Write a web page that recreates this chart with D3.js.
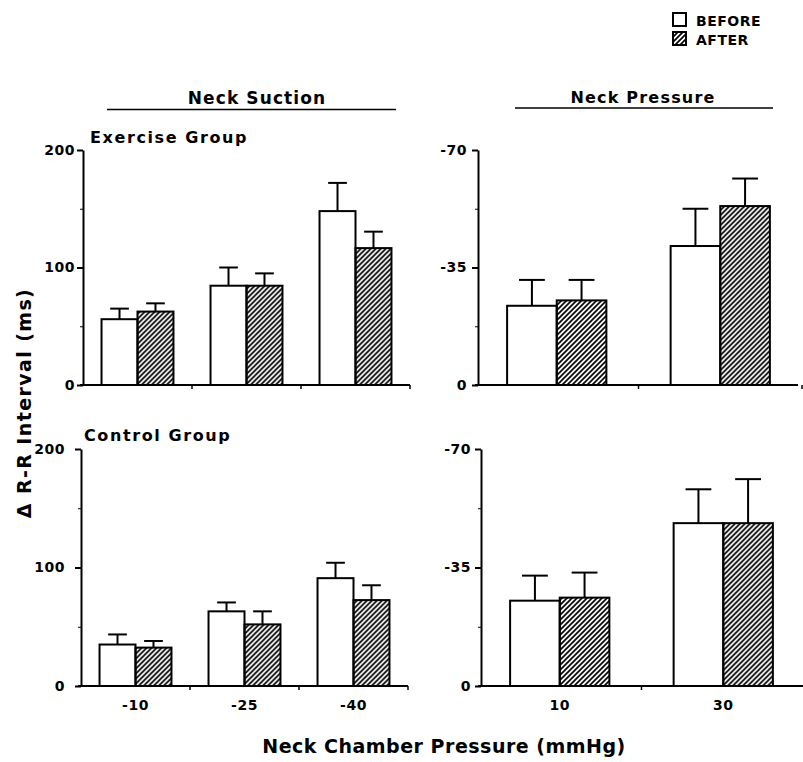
<!DOCTYPE html>
<html>
<head>
<meta charset="utf-8">
<script src="https://cdn.jsdelivr.net/npm/d3@7"></script>
<style>
  body { margin: 0; background: #fff; }
  text { font-family: "DejaVu Sans", sans-serif; font-weight: bold; fill: #000; }
</style>
</head>
<body>
<script>
// categories
var suctionCats = ["-10", "-25", "-40"];
var pressureCats = ["10", "30"];
var seriesNames = ["BEFORE", "AFTER"];

// exercise group
var exSuctionBefore = [56, 84.5, 148];
var exSuctionBeforeSE = [9, 15.5, 24];
var exSuctionAfter = [62.5, 84.5, 116.5];
var exSuctionAfterSE = [7, 10.5, 14];
var exPressureBefore = [-23.6, -41.4];
var exPressureBeforeSE = [7.7, 11.1];
var exPressureAfter = [-25.2, -53.3];
var exPressureAfterSE = [6.1, 8.2];

// control group
var ctSuctionBefore = [35, 63, 91];
var ctSuctionBeforeSE = [8.5, 7.5, 13];
var ctSuctionAfter = [32.4, 52, 72.5];
var ctSuctionAfterSE = [5.6, 11, 12.5];
var ctPressureBefore = [-25.2, -48.1];
var ctPressureBeforeSE = [7.4, 10];
var ctPressureAfter = [-26.1, -48.1];
var ctPressureAfterSE = [7.4, 13];

// y ticks
var suctionTicks = [0, 100, 200];
var suctionMinor = [50, 150];
var pressureTicks = [0, -35, -70];
var pressureMinor = [-17.5, -52.5];

var svg = d3.select("body")
    .append("svg")
    .attr("width", 803)
    .attr("height", 762);

// hatch pattern for AFTER bars
var defs = svg.append("defs");
var pat = defs.append("pattern")
    .attr("id", "hatch")
    .attr("patternUnits", "userSpaceOnUse")
    .attr("width", 5)
    .attr("height", 5);
pat.append("path")
    .attr("d", "M-1,1 l2,-2 M0,5 l5,-5 M4,6 l2,-2")
    .attr("stroke", "#000")
    .attr("stroke-width", 1.7);

function fillFor(i) {
    return i === 0 ? "#fff" : "url(#hatch)";
}

function panel(opt) {
    var g = svg.append("g");

    var y = d3.scaleLinear()
        .domain(opt.domain)
        .range([opt.bottom, opt.top]);

    var x = d3.scaleBand()
        .domain(opt.cats)
        .range([opt.x, opt.x + opt.width])
        .paddingInner(opt.pi)
        .paddingOuter(opt.po);

    var xs = d3.scaleBand()
        .domain(seriesNames)
        .range([0, x.bandwidth()]);

    var rows = opt.cats.map(function (c, i) {
        return {
            cat: c,
            vals: [
                {s: 0, v: opt.before[i], e: opt.beforeSE[i]},
                {s: 1, v: opt.after[i], e: opt.afterSE[i]}
            ]
        };
    });

    var groups = g.selectAll("g.grp")
        .data(rows)
        .enter()
        .append("g")
        .attr("class", "grp")
        .attr("transform", function (d) { return "translate(" + x(d.cat) + ",0)"; });

    var sign = opt.domain[1] < 0 ? -1 : 1;

    // error bars (drawn first so the bar outline covers the stem foot)
    groups.selectAll("g.err")
        .data(function (d) { return d.vals; })
        .enter()
        .append("g")
        .attr("class", "err")
        .each(function (d) {
            var cx = xs(seriesNames[d.s]) + xs.bandwidth() / 2;
            var cap = xs.bandwidth() * 0.26;
            var top = y(d.v + sign * d.e);
            d3.select(this).append("line")
                .attr("x1", cx).attr("x2", cx)
                .attr("y1", y(d.v)).attr("y2", top)
                .attr("stroke", "#000").attr("stroke-width", 2);
            d3.select(this).append("line")
                .attr("x1", cx - cap).attr("x2", cx + cap)
                .attr("y1", top).attr("y2", top)
                .attr("stroke", "#000").attr("stroke-width", 2);
        });

    groups.selectAll("rect")
        .data(function (d) { return d.vals; })
        .enter()
        .append("rect")
        .attr("x", function (d) { return xs(seriesNames[d.s]); })
        .attr("width", xs.bandwidth())
        .attr("y", function (d) { return Math.min(y(d.v), y(0)); })
        .attr("height", function (d) { return Math.abs(y(0) - y(d.v)); })
        .attr("fill", function (d) { return fillFor(d.s); })
        .attr("stroke", "#000")
        .attr("stroke-width", 2);

    // y axis
    var yAxis = d3.axisLeft(y)
        .tickValues(opt.ticks)
        .tickSize(6)
        .tickSizeOuter(0)
        .tickPadding(opt.ypad)
        .tickFormat(function (d) { return String(d); });

    var ya = g.append("g")
        .attr("transform", "translate(" + opt.x + ",0)")
        .call(yAxis);
    ya.select(".domain").attr("stroke-width", 2);
    ya.selectAll(".tick line").attr("stroke-width", 2);
    ya.selectAll(".tick text")
        .style("font-size", "14px")
        .style("letter-spacing", "0.5px");

    g.append("g")
        .attr("transform", "translate(" + opt.x + ",0)")
        .call(d3.axisLeft(y).tickValues(opt.minor).tickSize(3).tickSizeOuter(0).tickFormat(""))
        .call(function (s) { s.select(".domain").remove(); });

    // x axis: line with ticks at band boundaries
    var step = x.step();
    var start = x(opt.cats[0]) - step * opt.pi / 2;
    var bounds = opt.cats.map(function (c, i) { return start + step * (i + 1); });
    var xAxis = d3.axisBottom(x)
        .tickSize(0)
        .tickPadding(14)
        .tickFormat(opt.showLabels ? null : "");
    var xa = g.append("g")
        .attr("transform", "translate(0," + opt.bottom + ")")
        .call(xAxis);
    xa.select(".domain")
        .attr("d", "M" + (opt.x - 3) + ",0H" + opt.end)
        .attr("stroke-width", 2);
    xa.selectAll(".tick text")
        .style("font-size", "14px")
        .style("letter-spacing", "0.5px");

    g.selectAll("line.bnd")
        .data(bounds)
        .enter()
        .append("line")
        .attr("class", "bnd")
        .attr("x1", function (d) { return d; })
        .attr("x2", function (d) { return d; })
        .attr("y1", opt.bottom)
        .attr("y2", opt.bottom + 4)
        .attr("stroke", "#000")
        .attr("stroke-width", 1.5);
}

var leftPad = {pi: 0.34, po: 0.17, width: 327};
var rightPad = {pi: 0.393, po: 0.178, width: 321};

panel(Object.assign({
    x: 83, end: 410, top: 150, bottom: 385, domain: [0, 200], ypad: 2,
    cats: suctionCats, before: exSuctionBefore, beforeSE: exSuctionBeforeSE,
    after: exSuctionAfter, afterSE: exSuctionAfterSE,
    ticks: suctionTicks, minor: suctionMinor, showLabels: false
}, leftPad));

panel(Object.assign({
    x: 478, end: 798, top: 150, bottom: 385, domain: [0, -70], ypad: 5,
    cats: pressureCats, before: exPressureBefore, beforeSE: exPressureBeforeSE,
    after: exPressureAfter, afterSE: exPressureAfterSE,
    ticks: pressureTicks, minor: pressureMinor, showLabels: false
}, rightPad));

panel(Object.assign({
    x: 81, end: 408, top: 449, bottom: 686, domain: [0, 200], ypad: 10,
    cats: suctionCats, before: ctSuctionBefore, beforeSE: ctSuctionBeforeSE,
    after: ctSuctionAfter, afterSE: ctSuctionAfterSE,
    ticks: suctionTicks, minor: suctionMinor, showLabels: true
}, leftPad));

panel(Object.assign({
    x: 481, end: 803, top: 449, bottom: 686, domain: [0, -70], ypad: 4,
    cats: pressureCats, before: ctPressureBefore, beforeSE: ctPressureBeforeSE,
    after: ctPressureAfter, afterSE: ctPressureAfterSE,
    ticks: pressureTicks, minor: pressureMinor, showLabels: true
}, rightPad));

// section headers
svg.append("text")
    .attr("x", 257).attr("y", 104)
    .style("text-anchor", "middle")
    .style("font-size", "17px")
    .style("letter-spacing", "1.1px")
    .text("Neck Suction");
svg.append("line")
    .attr("x1", 107).attr("x2", 396)
    .attr("y1", 109.5).attr("y2", 109.5)
    .attr("stroke", "#000").attr("stroke-width", 1.5);

svg.append("text")
    .attr("x", 643).attr("y", 103)
    .style("text-anchor", "middle")
    .style("font-size", "16px")
    .style("letter-spacing", "1.2px")
    .text("Neck Pressure");
svg.append("line")
    .attr("x1", 515).attr("x2", 773)
    .attr("y1", 108).attr("y2", 108)
    .attr("stroke", "#000").attr("stroke-width", 1.5);

// group labels
svg.append("text")
    .attr("x", 90).attr("y", 143)
    .style("font-size", "16px")
    .style("letter-spacing", "1.6px")
    .text("Exercise Group");
svg.append("text")
    .attr("x", 84).attr("y", 441)
    .style("font-size", "16px")
    .style("letter-spacing", "1.6px")
    .text("Control Group");

// axis titles
svg.append("text")
    .attr("transform", "translate(31,403) rotate(-90)")
    .style("text-anchor", "middle")
    .style("font-size", "19px")
    .style("letter-spacing", "1.4px")
    .text("\u0394 R-R Interval (ms)");

svg.append("text")
    .attr("x", 444).attr("y", 753)
    .style("text-anchor", "middle")
    .style("font-size", "19px")
    .style("letter-spacing", "0.5px")
    .text("Neck Chamber Pressure (mmHg)");

// legend
var legend = svg.append("g").attr("transform", "translate(673,13)");
var li = legend.selectAll("g")
    .data(seriesNames)
    .enter()
    .append("g")
    .attr("transform", function (d, i) { return "translate(0," + (i * 19) + ")"; });
li.append("rect")
    .attr("width", 13).attr("height", 13)
    .attr("fill", function (d, i) { return fillFor(i); })
    .attr("stroke", "#000").attr("stroke-width", 2);
li.append("text")
    .attr("x", 23).attr("y", 12.5)
    .style("font-size", "14px")
    .style("letter-spacing", "0.5px")
    .text(function (d) { return d; });
</script>
</body>
</html>
